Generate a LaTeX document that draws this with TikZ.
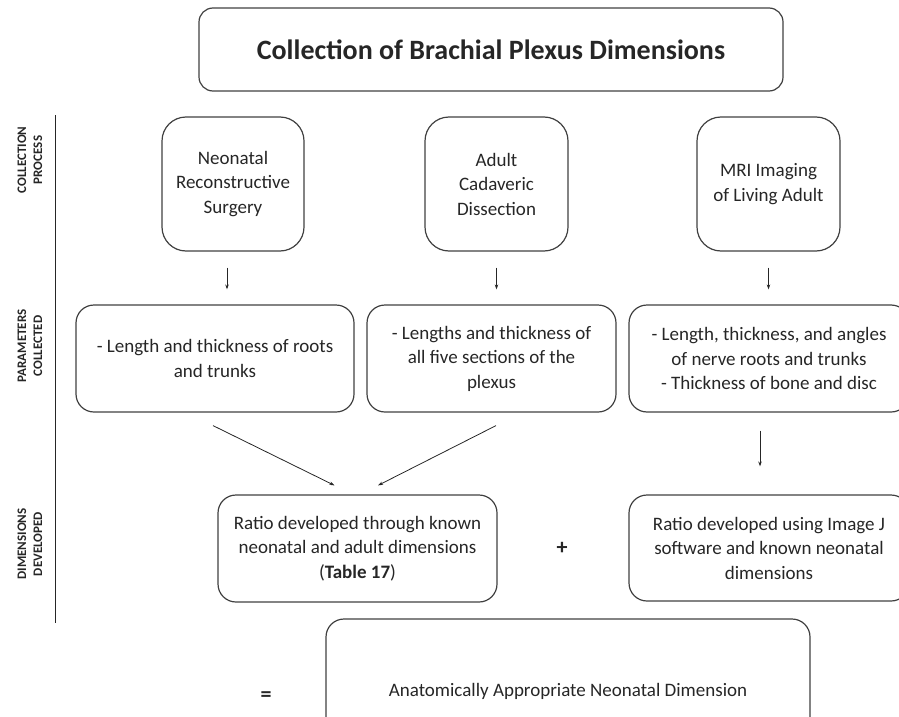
\documentclass[tikz,border=0pt]{standalone}
\usepackage{fontspec}
\setmainfont{Carlito}
\usetikzlibrary{arrows.meta,calc}
\definecolor{txt}{HTML}{262626}
\definecolor{edge}{HTML}{404040}
\begin{document}
\begin{tikzpicture}[x=1pt,y=-1pt,
  bx/.style={draw=edge, line width=1.2pt, align=center, text=txt,
    font=\fontsize{19}{24.5}\selectfont, inner sep=0pt},
  arr/.style={draw=txt, line width=0.8pt, -{Stealth[length=5pt,width=3.5pt]}},
  sidelab/.style={rotate=90, align=center, text=txt,
    font=\bfseries\fontsize{13}{16}\selectfont},
  sym/.style={text=txt, font=\bfseries\fontsize{22}{26}\selectfont}]
\path[use as bounding box] (0,0) rectangle (899,717);
\clip (0,0) rectangle (899,717);

% title
\node[bx, rounded corners=14pt, minimum width=584pt, minimum height=83pt,
  font=\bfseries\fontsize{28}{34}\selectfont] (title) at (491,49.5)
  {Collection of Brachial Plexus Dimensions};

% side labels and rule
\node[sidelab] (lab1) at (30,160) {COLLECTION\\PROCESS};
\node[sidelab] (lab2) at (30,346) {PARAMETERS\\COLLECTED};
\node[sidelab] (lab3) at (30,544) {DIMENSIONS\\DEVELOPED};
\coordinate (vtop) at (55,115);
\coordinate (vbot) at (55,623);
\draw[draw=txt, line width=1pt] (vtop) -- (vbot);

% row 1
\node[bx, rounded corners=24pt, minimum width=142pt, minimum height=134pt] (n1) at (233,184)
  {Neonatal\\Reconstructive\\Surgery};
\node[bx, rounded corners=24pt, minimum width=143pt, minimum height=134pt] (n2) at (496.5,184)
  {Adult\\Cadaveric\\Dissection};
\node[bx, rounded corners=24pt, minimum width=143pt, minimum height=134pt] (n3) at (768.5,184)
  {MRI Imaging\\of Living Adult};

% row 2
\node[bx, rounded corners=18pt, minimum width=278pt, minimum height=107pt] (p1) at (215,358.5)
  {- Length and thickness of roots\\and trunks};
\node[bx, rounded corners=18pt, minimum width=249pt, minimum height=107pt] (p2) at (491.5,358.5)
  {- Lengths and thickness of\\all five sections of the\\plexus};
\node[bx, rounded corners=18pt, minimum width=280pt, minimum height=107pt] (p3) at (769,358.5)
  {- Length, thickness, and angles\\of nerve roots and trunks\\- Thickness of bone and disc};

% row 3
\node[bx, rounded corners=18pt, minimum width=279pt, minimum height=107pt] (r1) at (357.5,548.5)
  {Ratio developed through known\\neonatal and adult dimensions\\(\textbf{Table 17})};
\node[sym] (plus) at (562,548) {+};
\node[bx, rounded corners=18pt, minimum width=280pt, minimum height=106pt] (r2) at (769,548)
  {Ratio developed using Image J\\software and known neonatal\\dimensions};

% bottom
\node[sym] (eq) at (266,697) {=};
\node[bx, rounded corners=18pt, minimum width=484pt, minimum height=144pt] (res) at (568,691)
  {Anatomically Appropriate Neonatal Dimension};

% arrows
\draw[arr, shorten <=16pt, shorten >=15pt] ([xshift=-6pt]n1.south) -- ([xshift=-6pt]n1.south |- p1.north);
\draw[arr, shorten <=16pt, shorten >=15pt] (n2.south) -- (n2.south |- p2.north);
\draw[arr, shorten <=16pt, shorten >=15pt] (n3.south) -- (n3.south |- p3.north);
\draw[arr] ($(p1.south)+(-2,13)$) -- ($(r1.north)+(-23,-9)$);
\draw[arr] ($(p2.south)+(4.5,13)$) -- ($(r1.north)+(20.5,-9)$);
\draw[arr, shorten <=18pt, shorten >=28pt] ([xshift=-9pt]p3.south) -- ([xshift=-9pt]p3.south |- r2.north);
\end{tikzpicture}
\end{document}
